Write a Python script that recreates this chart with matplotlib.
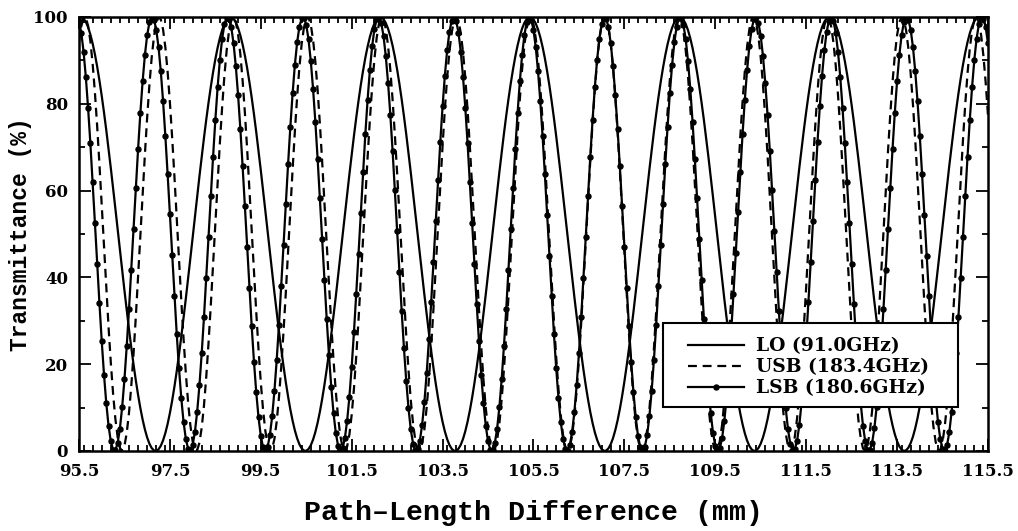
import numpy as np
import matplotlib
matplotlib.use("Agg")
import matplotlib.pyplot as plt
from matplotlib.ticker import MultipleLocator
from matplotlib.patches import Rectangle

labels = ["LO (91.0GHz)", "USB (183.4GHz)", "LSB (180.6GHz)"]
freqs_ghz = [91.0, 183.4, 180.6]          # frequencies printed in the legend
port = ["cos", "sin", "sin"]              # LO transmitted ~cos^2, sidebands ~sin^2
d_start, d_stop, d_step = 95.5, 115.5, 0.05   # path-length difference grid (mm)
x_ticks = [95.5, 97.5, 99.5, 101.5, 103.5, 105.5, 107.5, 109.5, 111.5, 113.5, 115.5]
y_ticks = [0, 20, 40, 60, 80, 100]

C_MM_GHZ = 299.792458  # speed of light in mm*GHz

d = np.arange(d_start, d_stop + d_step / 2, d_step)

def transmittance(f, kind):
    phase = np.pi * d * f / C_MM_GHZ
    return 100 * (np.cos(phase) ** 2 if kind == "cos" else np.sin(phase) ** 2)

fig = plt.figure(figsize=(10.18, 5.31), dpi=100)
ax = fig.add_axes([0.0776, 0.1507, 0.8929, 0.8173])

styles = [
    dict(color="black", lw=1.6, ls="-"),
    dict(color="black", lw=1.6, ls=(0, (4, 2.6))),
    dict(color="black", lw=1.6, ls="-", marker="o", ms=3.6),
]
for lab, f, k, st in zip(labels, freqs_ghz, port, styles):
    ax.plot(d, transmittance(f, k), label=lab, clip_on=True, **st)

ax.set_xlim(d_start, d_stop)
ax.set_ylim(0, 100)
ax.set_xticks(x_ticks)
ax.set_yticks(y_ticks)
ax.xaxis.set_minor_locator(MultipleLocator(0.2))
ax.yaxis.set_minor_locator(MultipleLocator(10))
ax.tick_params(which="both", direction="in", top=True, right=True, width=1.3, colors="black")
ax.tick_params(which="major", length=8.5)
ax.tick_params(axis="x", which="major", pad=9)
ax.tick_params(axis="y", which="major", pad=8)
ax.tick_params(which="minor", length=4.5)
for lab in ax.get_xticklabels() + ax.get_yticklabels():
    lab.set_fontfamily("DejaVu Serif")
    lab.set_fontweight("bold")
    lab.set_fontsize(12)
for sp in ax.spines.values():
    sp.set_linewidth(1.8)

ax.set_xlabel("Path\u2013Length Difference (mm)", family="Liberation Mono",
              weight="bold", fontsize=20.3)
ax.set_ylabel("Transmittance (%)", family="Liberation Mono",
              weight="bold", fontsize=16.5)
ax.xaxis.set_label_coords(0.5, -0.113)
ax.yaxis.set_label_coords(-0.052, 0.5)

# legend box (white, covering curves) and legend contents
ax.add_patch(Rectangle((0.6425, 0.101), 0.3245, 0.194, transform=ax.transAxes,
                       facecolor="white", edgecolor="black", lw=1.5, zorder=5))
leg = ax.legend(loc="upper left", bbox_to_anchor=(0.67, 0.262), borderaxespad=0,
                borderpad=0, frameon=False, handlelength=3.0, handletextpad=0.62,
                labelspacing=0.16,
                prop=dict(family="DejaVu Serif", weight="bold", size=13.5))
leg.set_zorder(6)

fig.savefig("out.png", dpi=100)
